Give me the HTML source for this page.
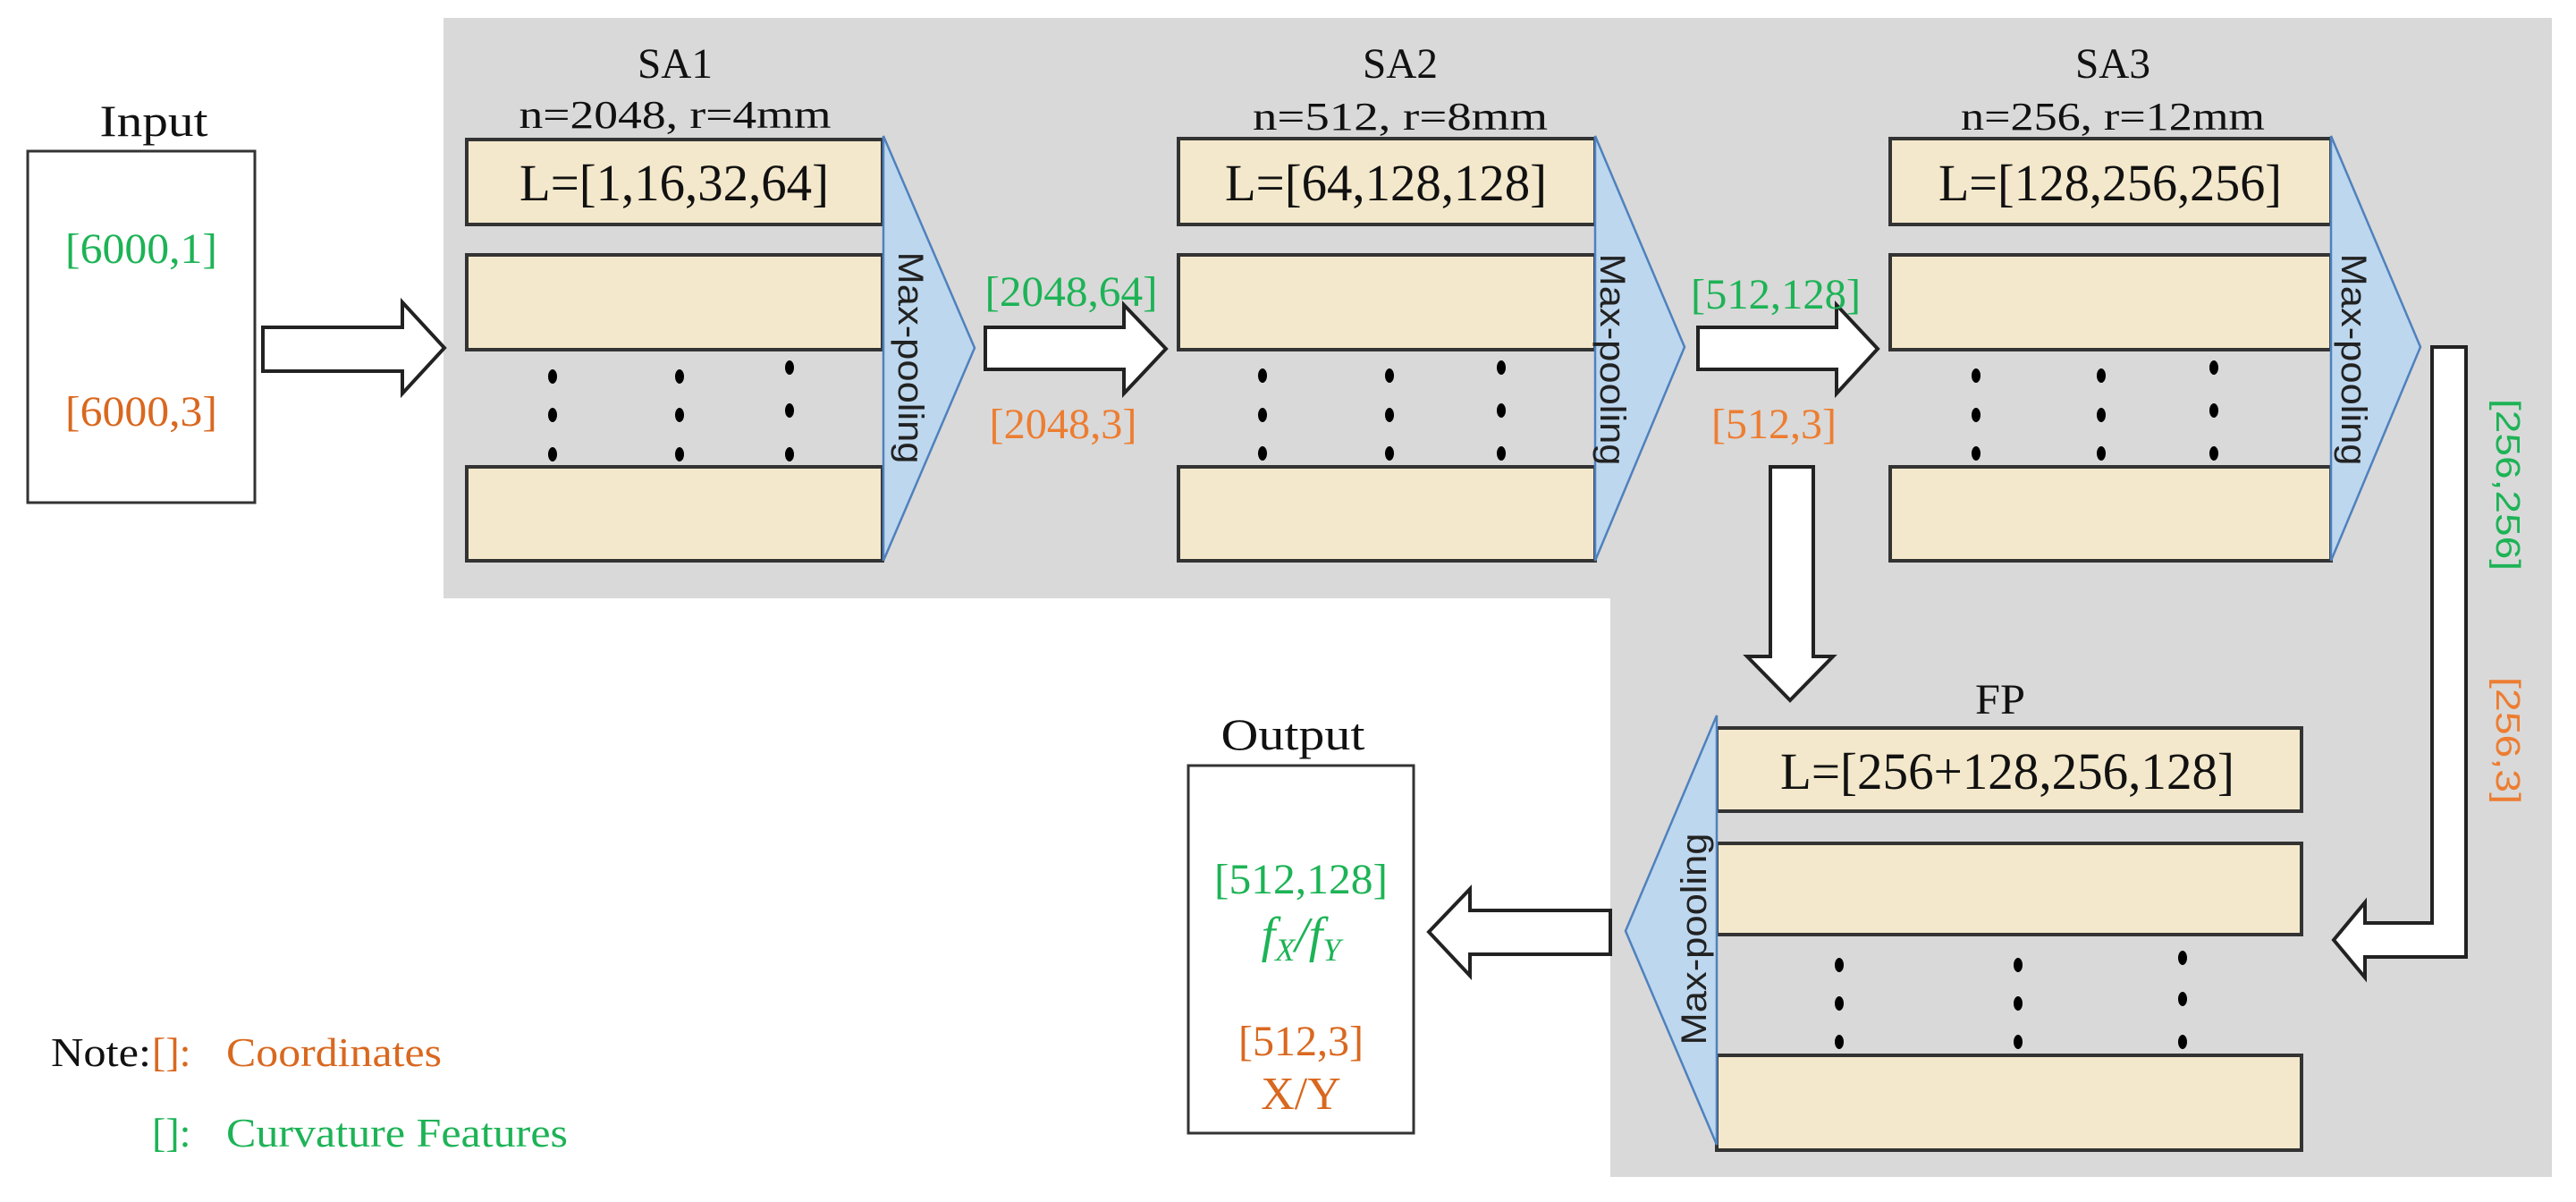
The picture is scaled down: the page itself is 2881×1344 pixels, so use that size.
<!DOCTYPE html>
<html><head><meta charset="utf-8"><style>
html,body{margin:0;padding:0;background:#fff;}
svg{display:block;}
.s{font-family:"Liberation Serif",serif;}
.a{font-family:"Liberation Sans",sans-serif;}
</style></head><body>
<svg width="2881" height="1344" viewBox="0 0 2881 1344" xmlns="http://www.w3.org/2000/svg">
<path d="M496,20 H2854 V1316 H1801 V669 H496 Z" fill="#d9d9d9"/>
<g fill="#f3e8cb" stroke="#333" stroke-width="4">
<rect x="522" y="156" width="465" height="95"/>
<rect x="522" y="285" width="465" height="106"/>
<rect x="522" y="522" width="465" height="105"/>
<rect x="1318" y="155" width="466" height="96"/>
<rect x="1318" y="285" width="466" height="106"/>
<rect x="1318" y="522" width="466" height="105"/>
<rect x="2114" y="155" width="493" height="96"/>
<rect x="2114" y="285" width="493" height="106"/>
<rect x="2114" y="522" width="493" height="105"/>
<rect x="1920" y="814" width="654" height="93"/>
<rect x="1920" y="943" width="654" height="102"/>
<rect x="1920" y="1180" width="654" height="106"/>
</g>
<rect x="31" y="169" width="254" height="393" fill="#fff" stroke="#333" stroke-width="3"/>
<rect x="1329" y="856" width="252" height="411" fill="#fff" stroke="#333" stroke-width="3"/>
<g fill="#bdd7ee" stroke="#4f81bd" stroke-width="2.5">
<polygon points="988,152 1090,389 988,627"/>
<polygon points="1784,152 1884,388 1784,627"/>
<polygon points="2607,152 2707,388 2607,627"/>
<polygon points="1920,800 1818,1041 1920,1280"/>
</g>
<g fill="#fff" stroke="#222" stroke-width="4" stroke-linejoin="miter">
<path d="M294,366 H450 V338 L497,389 L450,440 V415 H294 Z"/>
<path d="M1102,366 H1257 V341 L1304,390 L1257,440 V413 H1102 Z"/>
<path d="M1899,366 H2054 V341 L2100,390 L2054,440 V413 H1899 Z"/>
<path d="M1980,522 H2028 V734 H2050 L2002,783 L1954,734 H1980 Z"/>
<path d="M2720,388 H2758 V1070 H2645 V1093 L2610,1051 L2645,1009 V1032 H2720 Z"/>
<path d="M1801,1018 H1644 V994 L1598,1042 L1644,1091 V1067 H1801 Z"/>
</g>
<g fill="#000">
<ellipse cx="618" cy="421" rx="5" ry="8"/><ellipse cx="618" cy="464" rx="5" ry="8"/><ellipse cx="618" cy="508" rx="5" ry="8"/>
<ellipse cx="760" cy="421" rx="5" ry="8"/><ellipse cx="760" cy="464" rx="5" ry="8"/><ellipse cx="760" cy="508" rx="5" ry="8"/>
<ellipse cx="883" cy="411" rx="5" ry="8"/><ellipse cx="883" cy="459" rx="5" ry="8"/><ellipse cx="883" cy="508" rx="5" ry="8"/>
<ellipse cx="1412" cy="420" rx="5" ry="8"/><ellipse cx="1412" cy="464" rx="5" ry="8"/><ellipse cx="1412" cy="507" rx="5" ry="8"/>
<ellipse cx="1554" cy="420" rx="5" ry="8"/><ellipse cx="1554" cy="464" rx="5" ry="8"/><ellipse cx="1554" cy="507" rx="5" ry="8"/>
<ellipse cx="1679" cy="411" rx="5" ry="8"/><ellipse cx="1679" cy="459" rx="5" ry="8"/><ellipse cx="1679" cy="507" rx="5" ry="8"/>
<ellipse cx="2210" cy="420" rx="5" ry="8"/><ellipse cx="2210" cy="464" rx="5" ry="8"/><ellipse cx="2210" cy="507" rx="5" ry="8"/>
<ellipse cx="2350" cy="420" rx="5" ry="8"/><ellipse cx="2350" cy="464" rx="5" ry="8"/><ellipse cx="2350" cy="507" rx="5" ry="8"/>
<ellipse cx="2476" cy="411" rx="5" ry="8"/><ellipse cx="2476" cy="459" rx="5" ry="8"/><ellipse cx="2476" cy="507" rx="5" ry="8"/>
<ellipse cx="2057" cy="1079" rx="5" ry="8"/><ellipse cx="2057" cy="1122" rx="5" ry="8"/><ellipse cx="2057" cy="1165" rx="5" ry="8"/>
<ellipse cx="2257" cy="1079" rx="5" ry="8"/><ellipse cx="2257" cy="1122" rx="5" ry="8"/><ellipse cx="2257" cy="1165" rx="5" ry="8"/>
<ellipse cx="2441" cy="1071" rx="5" ry="8"/><ellipse cx="2441" cy="1117" rx="5" ry="8"/><ellipse cx="2441" cy="1165" rx="5" ry="8"/>
</g>
<g class="s" fill="#111" text-anchor="middle">
<text x="172" y="152" font-size="50" textLength="121" lengthAdjust="spacingAndGlyphs">Input</text>
<text x="755" y="87" font-size="48" textLength="84" lengthAdjust="spacingAndGlyphs">SA1</text>
<text x="755" y="143" font-size="44" textLength="349" lengthAdjust="spacingAndGlyphs">n=2048,  r=4mm</text>
<text x="1566" y="87" font-size="48" textLength="84" lengthAdjust="spacingAndGlyphs">SA2</text>
<text x="1566" y="145" font-size="44" textLength="330" lengthAdjust="spacingAndGlyphs">n=512,  r=8mm</text>
<text x="2363" y="87" font-size="48" textLength="84" lengthAdjust="spacingAndGlyphs">SA3</text>
<text x="2363" y="145" font-size="44" textLength="340" lengthAdjust="spacingAndGlyphs">n=256, r=12mm</text>
<text x="754" y="224" font-size="58" textLength="346" lengthAdjust="spacingAndGlyphs">L=[1,16,32,64]</text>
<text x="1550" y="224" font-size="58" textLength="360" lengthAdjust="spacingAndGlyphs">L=[64,128,128]</text>
<text x="2360" y="224" font-size="58" textLength="384" lengthAdjust="spacingAndGlyphs">L=[128,256,256]</text>
<text x="2237" y="798" font-size="48" textLength="56" lengthAdjust="spacingAndGlyphs">FP</text>
<text x="2245" y="882" font-size="58" textLength="508" lengthAdjust="spacingAndGlyphs">L=[256+128,256,128]</text>
<text x="1446" y="838" font-size="50" textLength="161" lengthAdjust="spacingAndGlyphs">Output</text>
</g>
<text class="s" x="57" y="1192" font-size="46" fill="#111" textLength="112" lengthAdjust="spacingAndGlyphs">Note:</text>
<text class="s" x="170" y="1192" font-size="46" fill="#d9681f">[]:</text>
<text class="s" x="253" y="1192" font-size="46" fill="#d9681f" textLength="241" lengthAdjust="spacingAndGlyphs">Coordinates</text>
<text class="s" x="170" y="1282" font-size="46" fill="#1db356">[]:</text>
<text class="s" x="253" y="1282" font-size="46" fill="#1db356" textLength="382" lengthAdjust="spacingAndGlyphs">Curvature Features</text>
<g class="s" text-anchor="middle" font-size="48">
<text x="158" y="294" fill="#1db356" textLength="170" lengthAdjust="spacingAndGlyphs">[6000,1]</text>
<text x="158" y="476" fill="#d9681f" textLength="170" lengthAdjust="spacingAndGlyphs">[6000,3]</text>
<text x="1198" y="342" fill="#1db356" textLength="193" lengthAdjust="spacingAndGlyphs">[2048,64]</text>
<text x="1189" y="490" fill="#ed7d31" textLength="165" lengthAdjust="spacingAndGlyphs">[2048,3]</text>
<text x="1986" y="345" fill="#1db356" textLength="190" lengthAdjust="spacingAndGlyphs">[512,128]</text>
<text x="1984" y="490" fill="#ed7d31" textLength="140" lengthAdjust="spacingAndGlyphs">[512,3]</text>
<text x="1455" y="999" fill="#1db356" textLength="194" lengthAdjust="spacingAndGlyphs">[512,128]</text>
<text x="1455" y="1064" fill="#1db356" font-style="italic" font-size="56">f<tspan font-size="36" dy="10">X</tspan><tspan dy="-10">/f</tspan><tspan font-size="36" dy="10">Y</tspan></text>
<text x="1455" y="1180" fill="#d9681f" textLength="140" lengthAdjust="spacingAndGlyphs">[512,3]</text>
<text x="1455" y="1240" fill="#d9681f" font-size="52">X/Y</text>
</g>
<g class="a" font-size="38" text-anchor="middle">
<text transform="translate(2792,542) rotate(90)" fill="#1db356" textLength="192" lengthAdjust="spacingAndGlyphs">[256,256]</text>
<text transform="translate(2792,828) rotate(90)" fill="#ed7d31" textLength="142" lengthAdjust="spacingAndGlyphs">[256,3]</text>
</g>
<g class="a" fill="#222" font-size="40" text-anchor="middle">
<text transform="translate(1005,400) rotate(90)" textLength="237" lengthAdjust="spacingAndGlyphs">Max-pooling</text>
<text transform="translate(1790,402) rotate(90)" textLength="237" lengthAdjust="spacingAndGlyphs">Max-pooling</text>
<text transform="translate(2619,402) rotate(90)" textLength="237" lengthAdjust="spacingAndGlyphs">Max-pooling</text>
<text transform="translate(1908,1050) rotate(-90)" textLength="237" lengthAdjust="spacingAndGlyphs">Max-pooling</text>
</g>
</svg>
</body></html>
